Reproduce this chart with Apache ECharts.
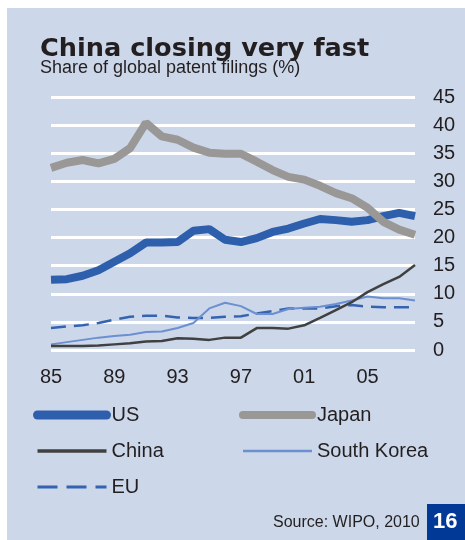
<!DOCTYPE html>
<html>
<head>
<meta charset="utf-8">
<script src="https://cdn.jsdelivr.net/npm/echarts@6/dist/echarts.min.js"></script>
<style>
html,body{margin:0;padding:0;background:#fff;}
#chart{width:465px;height:540px;}
</style>
</head>
<body>
<div id="chart"></div>
<script>
const years = ['1985','1986','1987','1988','1989','1990','1991','1992','1993','1994','1995','1996','1997','1998','1999','2000','2001','2002','2003','2004','2005','2006','2007','2008'];
const yTicks = [0,5,10,15,20,25,30,35,40,45];
const us = [12.5,12.6,13.2,14.2,15.7,17.2,19.1,19.1,19.2,21.2,21.5,19.6,19.2,19.9,21.0,21.6,22.5,23.3,23.1,22.8,23.1,23.8,24.4,23.8];
const japan = [32.4,33.3,33.8,33.2,34.0,35.9,40.4,38.0,37.4,36.0,35.1,34.9,34.9,33.5,32.0,30.8,30.3,29.2,27.9,27.0,25.3,22.8,21.4,20.5];
const china = [0.7,0.7,0.7,0.8,1.0,1.2,1.5,1.6,2.1,2.0,1.8,2.2,2.2,3.9,3.9,3.8,4.4,5.7,7.1,8.5,10.3,11.7,13.0,15.1];
const southKorea = [1.0,1.4,1.8,2.2,2.5,2.7,3.2,3.3,3.9,4.8,7.4,8.4,7.8,6.4,6.4,7.3,7.5,7.7,8.2,8.8,9.5,9.2,9.2,8.8];
const eu = [3.9,4.2,4.4,4.8,5.4,5.9,6.1,6.1,5.8,5.7,5.7,5.9,6.0,6.5,6.9,7.4,7.4,7.4,7.8,8.0,7.7,7.6,7.6,7.6];

const C_US = '#2e5fac', C_JP = '#999896', C_CN = '#404040', C_SK = '#6b8fd0', C_EU = '#3563b0';
const TXT = '#231f20';
const FONT = '"Liberation Sans", Arial, sans-serif';

const chart = echarts.init(document.getElementById('chart'), null, {renderer:'canvas'});
chart.setOption({
  animation: false,
  backgroundColor: '#fff',
  graphic: [
    {type:'rect', left:7, top:8, shape:{width:458, height:532}, style:{fill:'#ccd7e9'}, z:-10},
    {type:'rect', left:427, top:504, shape:{width:38, height:36}, style:{fill:'#003a96'}, z:5},
    {type:'text', left:433, top:511, style:{text:'16', fill:'#fff', font:'bold 22px "Liberation Sans", Arial, sans-serif'}, z:6},
    {type:'text', left:273, top:515, style:{text:'Source: WIPO, 2010', fill:TXT, font:'16px "Liberation Sans", Arial, sans-serif'}, z:6}
  ],
  title: [
    {text:'China closing very fast', left:35, top:31, textStyle:{fontFamily:'"DejaVu Sans", sans-serif', fontWeight:'bold', fontSize:25.6, color:TXT}},
    {text:'Share of global patent filings (%)', left:35, top:54, textStyle:{fontFamily:FONT, fontWeight:'normal', fontSize:18, color:TXT}}
  ],
  grid: {left:51, right:50, top:97, bottom:190, containLabel:false},
  legend: [
    {left:33, top:405, padding:0, orient:'vertical', itemWidth:69, itemHeight:20, itemGap:16,
     itemStyle:{opacity:0},
     textStyle:{fontFamily:FONT, fontSize:20, color:TXT},
     data:[
       {name:'US', lineStyle:{width:9, cap:'round'}},
       {name:'China', lineStyle:{width:3.5}},
       {name:'EU', lineStyle:{width:3, type:[20,9]}}
     ]},
    {left:239, top:405, padding:0, orient:'vertical', itemWidth:69, itemHeight:20, itemGap:16,
     itemStyle:{opacity:0},
     textStyle:{fontFamily:FONT, fontSize:20, color:TXT},
     data:[
       {name:'Japan', lineStyle:{width:8, cap:'round'}},
       {name:'South Korea', lineStyle:{width:2.5}}
     ]}
  ],
  xAxis: {
    type:'category', data:years, boundaryGap:false,
    axisLine:{show:false}, axisTick:{show:false},
    axisLabel:{interval:3, margin:17, fontFamily:FONT, fontSize:20, color:TXT, formatter:v=>v.slice(2)}
  },
  yAxis: {
    type:'value', position:'right', min:yTicks[0], max:yTicks[yTicks.length-1], interval:5,
    axisLine:{show:false}, axisTick:{show:false},
    axisLabel:{margin:18, align:'left', fontFamily:FONT, fontSize:20, color:TXT},
    splitLine:{show:true, lineStyle:{color:'#ffffff', width:3}}
  },
  series: [
    {name:'EU', type:'line', data:eu, symbol:'none', lineStyle:{color:C_EU, width:2.5, type:[15,8]}, itemStyle:{color:C_EU}},
    {name:'South Korea', type:'line', data:southKorea, symbol:'none', lineStyle:{color:C_SK, width:2}, itemStyle:{color:C_SK}},
    {name:'US', type:'line', data:us, symbol:'none', lineStyle:{color:C_US, width:8}, itemStyle:{color:C_US}},
    {name:'Japan', type:'line', data:japan, symbol:'none', lineStyle:{color:C_JP, width:8}, itemStyle:{color:C_JP}},
    {name:'China', type:'line', data:china, symbol:'none', lineStyle:{color:C_CN, width:2.5}, itemStyle:{color:C_CN}}
  ]
});
</script>
</body>
</html>
